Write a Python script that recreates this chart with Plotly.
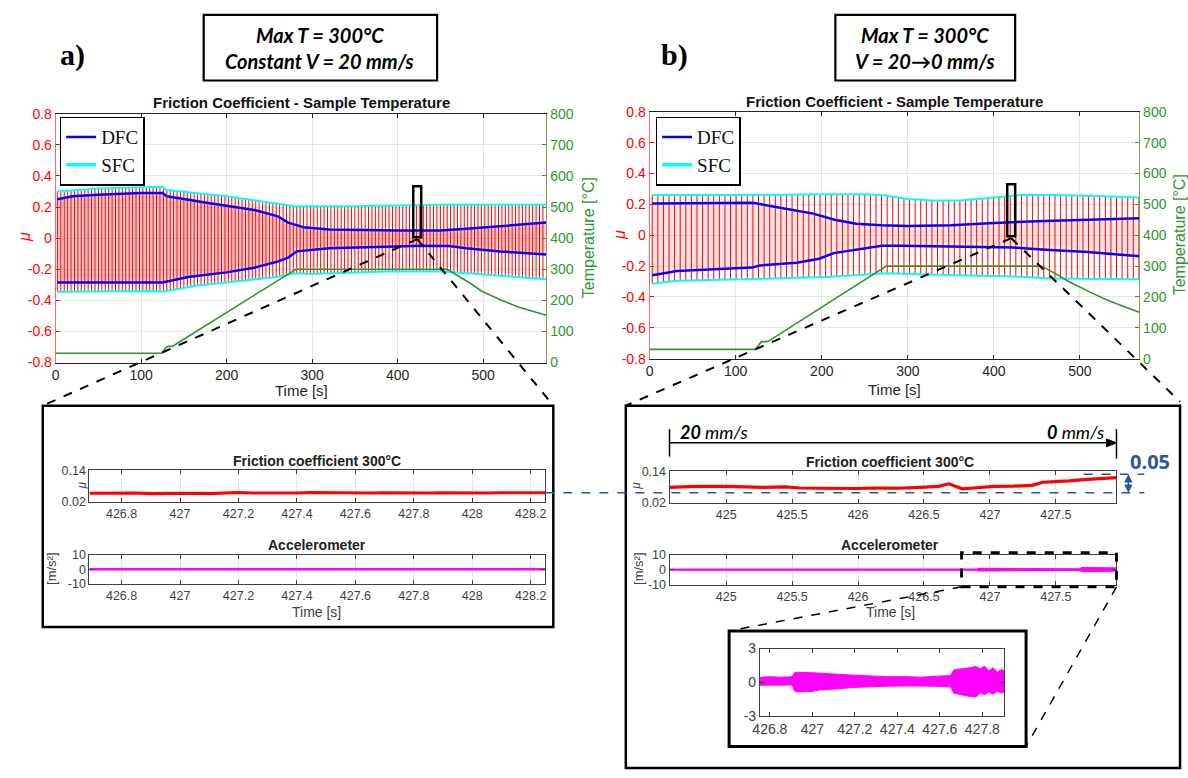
import numpy as np
import plotly.graph_objects as go

W, H = 1188, 778
def px(x): return x / W
def py(y): return 1 - y / H

# ---------------- data: chart a (constant V) ----------------
a_dfc_up_t = [2, 20, 50, 100, 125, 130, 175, 234, 260, 272, 290, 320, 400, 450, 480, 530, 574]
a_dfc_up = [0.25, 0.27, 0.28, 0.29, 0.29, 0.27, 0.23, 0.18, 0.14, 0.10, 0.07, 0.055, 0.05, 0.05, 0.06, 0.08, 0.10]
a_sfc_up_t = [2, 50, 125, 130, 200, 250, 280, 350, 450, 574]
a_sfc_up = [0.30, 0.32, 0.33, 0.31, 0.27, 0.23, 0.205, 0.205, 0.215, 0.215]
a_dfc_lo_t = [2, 125, 155, 200, 232, 260, 272, 282, 320, 390, 430, 460, 480, 520, 574]
a_dfc_lo = [-0.285, -0.285, -0.25, -0.22, -0.19, -0.15, -0.125, -0.085, -0.065, -0.052, -0.048, -0.05, -0.065, -0.085, -0.105]
a_sfc_lo_t = [2, 120, 125, 166, 254, 281, 300, 387, 454, 520, 574]
a_sfc_lo = [-0.345, -0.34, -0.345, -0.305, -0.253, -0.225, -0.23, -0.215, -0.215, -0.24, -0.265]
a_temp_t = [0, 124, 128, 131, 136, 140, 281, 458, 470, 485, 498, 520, 542, 574]
a_temp = [30, 30, 45, 52, 52, 58, 300, 300, 280, 255, 230, 202, 178, 152]
a_stroke_period = 4.0

# ---------------- data: chart b (V = 20 -> 0) ----------------
b_dfc_up_t = [3, 100, 120, 150, 190, 215, 240, 270, 300, 350, 400, 450, 500, 569]
b_dfc_up = [0.205, 0.21, 0.21, 0.18, 0.14, 0.10, 0.075, 0.065, 0.06, 0.065, 0.08, 0.09, 0.10, 0.11]
b_sfc_up_t = [3, 100, 200, 250, 270, 300, 330, 360, 400, 430, 470, 520, 569]
b_sfc_up = [0.26, 0.26, 0.265, 0.265, 0.26, 0.235, 0.225, 0.225, 0.245, 0.26, 0.26, 0.255, 0.245]
b_dfc_lo_t = [3, 32, 119, 128, 171, 197, 214, 249, 270, 292, 379, 422, 465, 509, 569]
b_dfc_lo = [-0.26, -0.232, -0.21, -0.196, -0.179, -0.152, -0.116, -0.088, -0.069, -0.069, -0.074, -0.08, -0.095, -0.109, -0.137]
b_sfc_lo_t = [3, 32, 119, 206, 275, 335, 422, 465, 569]
b_sfc_lo = [-0.315, -0.295, -0.284, -0.27, -0.246, -0.257, -0.267, -0.28, -0.285]
b_temp_t = [0, 123, 127, 130, 136, 140, 275, 455, 470, 487, 510, 530, 550, 569]
b_temp = [30, 30, 45, 55, 55, 60, 300, 300, 278, 250, 218, 192, 170, 150]
b_stroke_period = 6.5

# ---------------- data: zoomed insets ----------------
ia_t = [426.69, 426.75, 426.80, 426.85, 426.90, 426.95, 427.00, 427.05, 427.10, 427.15, 427.20, 427.25,
        427.30, 427.35, 427.40, 427.45, 427.50, 427.55, 427.60, 427.65, 427.70, 427.75, 427.80, 427.85,
        427.90, 427.95, 428.00, 428.05, 428.10, 428.15, 428.20, 428.25]
ia_mu = [0.052, 0.053, 0.055, 0.053, 0.051, 0.052, 0.053, 0.052, 0.051, 0.053, 0.055, 0.053,
         0.052, 0.054, 0.053, 0.055, 0.054, 0.053, 0.054, 0.053, 0.054, 0.053, 0.052, 0.053,
         0.054, 0.053, 0.054, 0.053, 0.054, 0.055, 0.053, 0.054]
ia_acc_t = [426.69, 428.25]
ia_acc_up = [0.4, 0.4]
ia_acc_lo = [-0.4, -0.4]

ib_t = [424.57, 424.77, 425.0, 425.15, 425.28, 425.45, 425.56, 425.7, 425.85, 426.0, 426.13, 426.3,
        426.47, 426.61, 426.69, 426.75, 426.79, 426.9, 427.03, 427.18, 427.32, 427.40, 427.5, 427.60,
        427.74, 427.85, 427.96]
ib_mu = [0.078, 0.082, 0.082, 0.080, 0.078, 0.080, 0.076, 0.075, 0.073, 0.074, 0.076, 0.075,
         0.078, 0.082, 0.092, 0.082, 0.073, 0.077, 0.082, 0.083, 0.086, 0.098, 0.100, 0.103,
         0.109, 0.112, 0.116]
ib_acc_t = [424.57, 426.90, 426.92, 427.68, 427.70, 427.96]
ib_acc_up = [0.4, 0.4, 0.9, 0.6, 1.4, 1.2]
ib_acc_lo = [-0.3, -0.3, -0.8, -0.4, -1.2, -1.0]

iz_t = [426.753, 426.80, 426.85, 426.905, 426.915, 426.93, 427.0, 427.04, 427.1, 427.2, 427.3, 427.35,
        427.45, 427.51, 427.59, 427.65, 427.665, 427.69, 427.72, 427.74, 427.77, 427.79, 427.81,
        427.83, 427.85, 427.87, 427.89, 427.903]
iz_up = [0.45, 0.5, 0.45, 0.5, 0.85, 0.9, 0.85, 0.8, 0.75, 0.63, 0.55, 0.5,
         0.5, 0.46, 0.55, 0.6, 1.1, 1.15, 1.25, 1.3, 1.4, 1.2, 1.45,
         1.0, 1.3, 0.9, 1.15, 1.0]
iz_lo = [-0.25, -0.22, -0.25, -0.23, -0.75, -0.85, -0.8, -0.65, -0.6, -0.45, -0.38, -0.34,
         -0.32, -0.3, -0.35, -0.4, -0.95, -1.05, -1.15, -1.25, -1.3, -0.9, -1.1,
         -0.85, -1.05, -0.8, -0.95, -0.85]

# tick labels
main_x_ticks = [0, 100, 200, 300, 400, 500]
mu_ticks = [-0.8, -0.6, -0.4, -0.2, 0, 0.2, 0.4, 0.6, 0.8]
mu_tick_text = ['-0.8', '-0.6', '-0.4', '-0.2', '0', '0.2', '0.4', '0.6', '0.8']
temp_ticks = [0, 100, 200, 300, 400, 500, 600, 700, 800]
ia_x_ticks = [426.8, 427.0, 427.2, 427.4, 427.6, 427.8, 428.0, 428.2]
ia_x_text = ['426.8', '427', '427.2', '427.4', '427.6', '427.8', '428', '428.2']
ib_x_ticks = [425, 425.5, 426, 426.5, 427, 427.5]
ib_x_text = ['425', '425.5', '426', '426.5', '427', '427.5']
iz_x_ticks = [426.8, 427.0, 427.2, 427.4, 427.6, 427.8]
iz_x_text = ['426.8', '427', '427.2', '427.4', '427.6', '427.8']

FONT = 'Liberation Sans, Arial, sans-serif'
RED = '#ff0000'
GREEN = '#2f962f'
GRID = '#e6e6e6'
DARK = '#262626'
GRAY = '#404040'

fig = go.Figure()


def friction_panel(xa, ya, ya_t, up_t, up, lo_t, lo, sup_t, sup, slo_t, slo, temp_t, temp,
                   period, tmax, fill_alpha, legend):
    # pink band (dense reciprocating signal) between DFC envelopes
    fig.add_trace(go.Scatter(x=list(up_t) + list(lo_t)[::-1], y=list(up) + list(lo)[::-1],
                             mode='lines', line=dict(width=0), fill='toself',
                             fillcolor='rgba(255,60,60,%.2f)' % fill_alpha,
                             xaxis=xa, yaxis=ya, showlegend=False, hoverinfo='skip'))
    # stroke reversals: vertical red lines from lower to upper static peaks
    st = np.arange(up_t[0], tmax, period)
    hi = np.interp(st, sup_t, sup)
    lw = np.interp(st, slo_t, slo)
    xs, ys = [], []
    for t, h, l in zip(st, hi, lw):
        xs += [t, t, None]
        ys += [l, h, None]
    fig.add_trace(go.Scatter(x=xs, y=ys, mode='lines', line=dict(color=RED, width=1),
                             xaxis=xa, yaxis=ya, showlegend=False, hoverinfo='skip'))
    # envelopes
    fig.add_trace(go.Scatter(x=sup_t, y=sup, mode='lines', line=dict(color='#00ffff', width=2),
                             xaxis=xa, yaxis=ya, showlegend=False))
    fig.add_trace(go.Scatter(x=slo_t, y=slo, mode='lines', line=dict(color='#00ffff', width=2),
                             xaxis=xa, yaxis=ya, showlegend=False))
    fig.add_trace(go.Scatter(x=up_t, y=up, mode='lines', line=dict(color='#0000ff', width=2.5),
                             xaxis=xa, yaxis=ya, name='DFC', legend=legend, showlegend=True))
    fig.add_trace(go.Scatter(x=lo_t, y=lo, mode='lines', line=dict(color='#0000ff', width=2.5),
                             xaxis=xa, yaxis=ya, showlegend=False))
    # legend-only SFC entry (ordered after DFC)
    fig.add_trace(go.Scatter(x=[None], y=[None], mode='lines', line=dict(color='#00ffff', width=3.5),
                             xaxis=xa, yaxis=ya, name='SFC', legend=legend, showlegend=True))
    # temperature
    fig.add_trace(go.Scatter(x=temp_t, y=temp, mode='lines', line=dict(color=GREEN, width=1.6),
                             xaxis=xa, yaxis=ya_t, showlegend=False))


friction_panel('x', 'y', 'y2', a_dfc_up_t, a_dfc_up, a_dfc_lo_t, a_dfc_lo,
               a_sfc_up_t, a_sfc_up, a_sfc_lo_t, a_sfc_lo, a_temp_t, a_temp,
               a_stroke_period, 574, 0.28, 'legend')
friction_panel('x2', 'y3', 'y4', b_dfc_up_t, b_dfc_up, b_dfc_lo_t, b_dfc_lo,
               b_sfc_up_t, b_sfc_up, b_sfc_lo_t, b_sfc_lo, b_temp_t, b_temp,
               b_stroke_period, 569, 0.14, 'legend2')

# insets
fig.add_trace(go.Scatter(x=ia_t, y=ia_mu, mode='lines', line=dict(color=RED, width=3.2),
                         xaxis='x3', yaxis='y5', showlegend=False))
fig.add_trace(go.Scatter(x=ia_acc_t + ia_acc_t[::-1], y=ia_acc_up + ia_acc_lo[::-1], mode='lines',
                         fill='toself', fillcolor='#ff00ff', line=dict(color='#ff00ff', width=1.2),
                         xaxis='x4', yaxis='y6', showlegend=False))
fig.add_trace(go.Scatter(x=ib_t, y=ib_mu, mode='lines', line=dict(color=RED, width=3.2),
                         xaxis='x5', yaxis='y7', showlegend=False))
fig.add_trace(go.Scatter(x=ib_acc_t + ib_acc_t[::-1], y=ib_acc_up + ib_acc_lo[::-1], mode='lines',
                         fill='toself', fillcolor='#ff00ff', line=dict(color='#ff00ff', width=1.2),
                         xaxis='x6', yaxis='y8', showlegend=False))
fig.add_trace(go.Scatter(x=iz_t + iz_t[::-1], y=iz_up + iz_lo[::-1], mode='lines',
                         fill='toself', fillcolor='#ff00ff', line=dict(color='#ff00ff', width=1),
                         xaxis='x7', yaxis='y9', showlegend=False))


def xax(dom, rng, anchor, tv, tt, grid=True, size=13, color=DARK):
    return dict(domain=[px(dom[0]), px(dom[1])], range=rng, anchor=anchor, tickvals=tv, ticktext=tt,
                ticks='inside', ticklen=4, tickcolor=color, showline=True, linecolor=color,
                linewidth=1, mirror='ticks', showgrid=grid, gridcolor=GRID, zeroline=False,
                tickfont=dict(size=size, color=color, family=FONT), fixedrange=True)


def yax(dom, rng, anchor, tv, tt, color=DARK, size=12, grid=False, mirror='ticks'):
    return dict(domain=[py(dom[1]), py(dom[0])], range=rng, anchor=anchor, tickvals=tv, ticktext=tt,
                ticks='inside', ticklen=4, tickcolor=color, showline=True, linecolor=color,
                linewidth=1, mirror=mirror, showgrid=grid, gridcolor=GRID, zeroline=False,
                tickfont=dict(size=size, color=color, family=FONT), fixedrange=True)


layout_axes = dict(
    xaxis=xax((49, 543), [0, 574], 'y', main_x_ticks, [str(v) for v in main_x_ticks], size=14),
    yaxis=dict(yax((108, 362), [-0.8, 0.8], 'x', mu_ticks, mu_tick_text, color=RED, size=14,
                   grid=True, mirror=False), linecolor='#ff6666'),
    yaxis2=dict(yax((108, 362), [0, 800], 'x', temp_ticks, [str(v) for v in temp_ticks],
                    color=GREEN, size=14, mirror=False), overlaying='y', side='right',
                linecolor='#8a9a5b'),
    xaxis2=xax((647, 1140), [0, 569], 'y3', main_x_ticks, [str(v) for v in main_x_ticks], size=14),
    yaxis3=dict(yax((106, 358), [-0.8, 0.8], 'x2', mu_ticks, mu_tick_text, color=RED, size=14,
                    grid=True, mirror=False), linecolor='#ff6666'),
    yaxis4=dict(yax((106, 358), [0, 800], 'x2', temp_ticks, [str(v) for v in temp_ticks],
                    color=GREEN, size=14, mirror=False), overlaying='y3', side='right',
                linecolor='#8a9a5b'),
    xaxis3=xax((83, 542), [426.69, 428.25], 'y5', ia_x_ticks, ia_x_text, size=12.5, color=GRAY),
    yaxis5=yax((472, 504), [0.02, 0.14], 'x3', [0.02, 0.14], ['0.02', '0.14'], color=GRAY, size=12.5),
    xaxis4=xax((83, 542), [426.69, 428.25], 'y6', ia_x_ticks, ia_x_text, size=12.5, color=GRAY),
    yaxis6=yax((558, 588), [-10, 10], 'x4', [-10, 0, 10], ['-10', '0', '10'], color=GRAY, size=12.5),
    xaxis5=xax((667, 1117), [424.57, 427.96], 'y7', ib_x_ticks, ib_x_text, size=12.5, color=GRAY),
    yaxis7=yax((473, 505), [0.02, 0.14], 'x5', [0.02, 0.14], ['0.02', '0.14'], color=GRAY, size=12.5),
    xaxis6=xax((667, 1117), [424.57, 427.96], 'y8', ib_x_ticks, ib_x_text, size=12.5, color=GRAY),
    yaxis8=yax((558, 589), [-10, 10], 'x6', [-10, 0, 10], ['-10', '0', '10'], color=GRAY, size=12.5),
    xaxis7=xax((758, 1004), [426.753, 427.903], 'y9', iz_x_ticks, iz_x_text, grid=False, size=14,
               color=GRAY),
    yaxis9=yax((654, 723), [-3, 3], 'x7', [-3, 0, 3], ['-3', '0', '3'], color=GRAY, size=14),
)

shapes = []
def line(x0, y0, x1, y1, color='black', width=1.5, dash='solid'):
    shapes.append(dict(type='line', xref='paper', yref='paper', x0=px(x0), y0=py(y0), x1=px(x1),
                       y1=py(y1), line=dict(color=color, width=width, dash=dash)))
def rect(x0, y0, x1, y1, width=2, dash='solid', color='black'):
    shapes.append(dict(type='rect', xref='paper', yref='paper', x0=px(x0), y0=py(y1), x1=px(x1),
                       y1=py(y0), line=dict(color=color, width=width, dash=dash),
                       fillcolor='rgba(0,0,0,0)'))
def tri(pts, color):
    path = 'M ' + ' L '.join('%f %f' % (px(a), py(b)) for a, b in pts) + ' Z'
    shapes.append(dict(type='path', xref='paper', yref='paper', path=path,
                       fillcolor=color, line=dict(color=color, width=1)))

# title boxes
rect(198, 7, 433, 74, width=2.2)
rect(834, 7, 1015, 74, width=2.2)
# zoom rectangles on main charts
rect(409, 182, 417, 234, width=2.5)
rect(1007, 180, 1015, 233, width=2.5)
# connector dashed lines to inset boxes
line(413, 236, 36, 406, width=2, dash='dash')
line(413, 236, 550, 406, width=2, dash='dash')
line(1011, 235, 623, 406, width=2, dash='dash')
line(1011, 235, 1181, 402, width=2, dash='dash')
# inset boxes
rect(36, 406, 550, 632, width=2.5)
rect(623, 406, 1181, 776, width=2.5)
# velocity arrow annotation
line(667, 430, 667, 458, width=1.5)
line(1117, 430, 1117, 460, width=1.5)
line(667, 444, 1110, 444, width=1.5)
tri([(1117, 444), (1107, 440), (1107, 448)], 'black')
# blue dashed 0.05 guide lines and double arrow
BLUE2 = '#2f5597'
line(542, 495, 1145, 495, color=BLUE2, width=1.5, dash='dash')
line(1084, 476, 1145, 476, color=BLUE2, width=1.5, dash='dash')
line(1129, 481, 1129, 490, color=BLUE2, width=1.5)
tri([(1129, 477), (1125.5, 484), (1132.5, 484)], BLUE2)
tri([(1129, 494), (1125.5, 487), (1132.5, 487)], BLUE2)
# accelerometer zoom rect + connectors
rect(961, 556, 1117, 591, width=2.8, dash='dash')
line(961, 591, 727, 636, width=1.5, dash='dash')
line(1117, 591, 1026, 754, width=1.5, dash='dash')
rect(727, 636, 1026, 754, width=3)

ann = []
def text(x, y, s, size=13, color=DARK, bold=False, family=FONT, angle=0, xanchor='center', italic=False):
    if bold:
        s = '<b>%s</b>' % s
    if italic:
        s = '<i>%s</i>' % s
    ann.append(dict(x=px(x), y=py(y), xref='paper', yref='paper', text=s, showarrow=False,
                    font=dict(size=size, color=color, family=family), textangle=angle,
                    xanchor=xanchor, yanchor='middle'))

TITLEF = 'Lato, Open Sans, sans-serif'
text(315, 28, 'Max T = 300°C', size=20, color='black', bold=True, italic=True, family=TITLEF)
text(315, 54, 'Constant V = 20 mm/s', size=20, color='black', bold=True, italic=True, family=TITLEF)
text(924, 28, 'Max T = 300°C', size=20, color='black', bold=True, italic=True, family=TITLEF)
text(924, 54, 'V = 20→0 mm/s', size=20, color='black', bold=True, italic=True, family=TITLEF)
text(66, 48, 'a)', size=30, color='black', bold=True, family='Liberation Serif, Times New Roman, serif')
text(672, 48, 'b)', size=30, color='black', bold=True, family='Liberation Serif, Times New Roman, serif')

text(296, 96, 'Friction Coefficient - Sample Temperature', size=15, color='#111', bold=True)
text(894, 95, 'Friction Coefficient - Sample Temperature', size=15, color='#111', bold=True)
text(17, 234, 'μ', size=16, color=RED, angle=-90, italic=True)
text(616, 232, 'μ', size=16, color=RED, angle=-90, italic=True)
text(585, 235, 'Temperature [°C]', size=16, color=GREEN, angle=-90)
text(1180, 232, 'Temperature [°C]', size=16, color=GREEN, angle=-90)
text(296, 391, 'Time [s]', size=15, color=DARK)
text(894, 390, 'Time [s]', size=15, color=DARK)

text(312, 463, 'Friction coefficient 300°C', size=14, color='#222', bold=True)
text(312, 548, 'Accelerometer', size=14, color='#222', bold=True)
text(312, 617, 'Time [s]', size=14, color=GRAY)
text(75, 487, 'μ', size=12, color=GRAY, angle=-90, italic=True)
text(45, 572, '[m/s²]', size=13, color=GRAY, angle=-90)

text(889, 464, 'Friction coefficient 300°C', size=14, color='#222', bold=True)
text(889, 548, 'Accelerometer', size=14, color='#222', bold=True)
text(889, 617, 'Time [s]', size=14, color=GRAY)
text(633, 488, 'μ', size=12, color=GRAY, angle=-90, italic=True)
text(636, 572, '[m/s²]', size=13, color=GRAY, angle=-90)

text(676, 433, '<b><i>20</i></b><i> mm/s</i>', size=18, color='black', family=TITLEF, xanchor='left')
text(1106, 433, '<b><i>0</i></b><i> mm/s</i>', size=18, color='black', family=TITLEF, xanchor='right')
text(1151, 463, '0.05', size=20, color=BLUE2, bold=True, family='Open Sans, sans-serif')

legend_style = dict(bgcolor='white', bordercolor='black', borderwidth=1.5,
                    font=dict(family='Liberation Serif, Times New Roman, serif', size=19, color='#111'),
                    xanchor='left', yanchor='top', tracegroupgap=0, itemwidth=30)

fig.update_layout(
    width=W, height=H, margin=dict(l=0, r=0, t=0, b=0),
    paper_bgcolor='white', plot_bgcolor='rgba(0,0,0,0)',
    font=dict(family=FONT),
    shapes=shapes, annotations=ann,
    legend=dict(legend_style, x=px(53), y=py(111)),
    legend2=dict(legend_style, x=px(653), y=py(111)),
    **layout_axes,
)

fig.write_html('out.html')
